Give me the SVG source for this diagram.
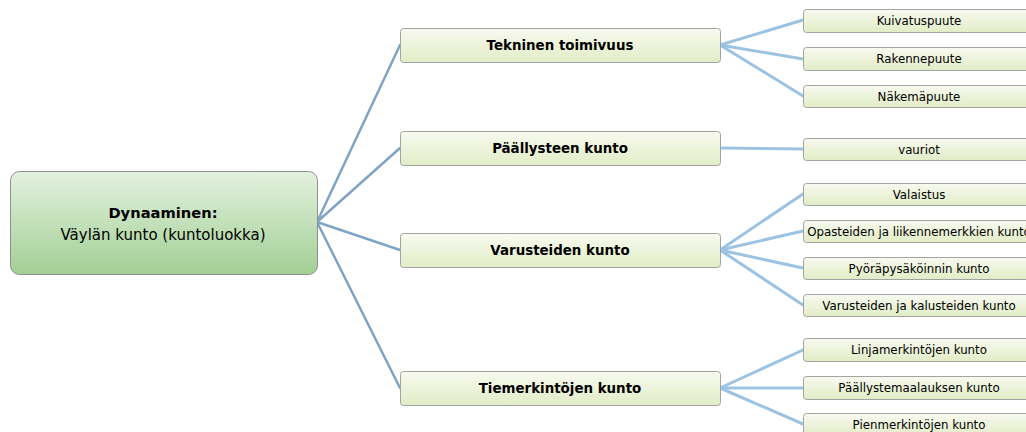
<svg xmlns="http://www.w3.org/2000/svg" width="1026" height="432" viewBox="0 0 1026 432">
<defs>
<linearGradient id="gRoot" x1="0" y1="0" x2="0" y2="1">
<stop offset="0" stop-color="#e3f1df"/>
<stop offset="1" stop-color="#a2cf94"/>
</linearGradient>
<linearGradient id="gNode" x1="0" y1="0" x2="0" y2="1">
<stop offset="0" stop-color="#f8faf0"/>
<stop offset="1" stop-color="#e1ecc6"/>
</linearGradient>
<style>
.root{fill:url(#gRoot);stroke:#8f8f8f;stroke-width:1}
.n1{fill:url(#gNode);stroke:#a3a3a3;stroke-width:1}
.n2{fill:url(#gNode);stroke:#a3a3a3;stroke-width:1}
.c1{stroke:#7fa4c6;stroke-width:2.5;fill:none;stroke-linecap:round}
.c2{stroke:#9cc3e2;stroke-width:3;fill:none;stroke-linecap:round}
text{font-family:"DejaVu Sans",Verdana,sans-serif;fill:#000;text-anchor:middle}
.t0b{font-size:14.7px;font-weight:bold}
.t0{font-size:15px}
.t1{font-size:13.4px;font-weight:bold}
.t2{font-size:11.8px}
</style>
</defs>
<rect width="1026" height="432" fill="#ffffff"/>
<g id="connectors">
<line class="c1" x1="317" y1="222" x2="400" y2="45"/>
<line class="c1" x1="317" y1="222" x2="400" y2="148"/>
<line class="c1" x1="317" y1="222" x2="400" y2="250"/>
<line class="c1" x1="317" y1="222" x2="400" y2="388"/>
<line class="c2" x1="720" y1="45" x2="803" y2="20"/>
<line class="c2" x1="720" y1="45" x2="803" y2="59"/>
<line class="c2" x1="720" y1="45" x2="803" y2="96"/>
<line class="c2" x1="720" y1="148" x2="803" y2="149"/>
<line class="c2" x1="720" y1="250" x2="803" y2="194"/>
<line class="c2" x1="720" y1="250" x2="803" y2="231"/>
<line class="c2" x1="720" y1="250" x2="803" y2="268"/>
<line class="c2" x1="720" y1="250" x2="803" y2="305"/>
<line class="c2" x1="720" y1="388" x2="803" y2="350"/>
<line class="c2" x1="720" y1="388" x2="803" y2="388"/>
<line class="c2" x1="720" y1="388" x2="803" y2="424"/>
</g>
<g id="root">
<rect class="root" x="10.5" y="171.5" width="307" height="103" rx="9"/>
<text class="t0b" x="163" y="218">Dynaaminen:</text>
<text class="t0" x="163" y="240">Väylän kunto (kuntoluokka)</text>
</g>
<g id="n-tekninen">
<rect class="n1" x="400.5" y="28.5" width="320" height="34" rx="3"/>
<text class="t1" x="560" y="50">Tekninen toimivuus</text>
</g>
<g id="n-paallysteen">
<rect class="n1" x="400.5" y="131.5" width="320" height="34" rx="3"/>
<text class="t1" x="560" y="153">Päällysteen kunto</text>
</g>
<g id="n-varusteiden">
<rect class="n1" x="400.5" y="233.5" width="320" height="34" rx="3"/>
<text class="t1" x="560" y="255">Varusteiden kunto</text>
</g>
<g id="n-tiemerkintojen">
<rect class="n1" x="400.5" y="371.5" width="320" height="34" rx="3"/>
<text class="t1" x="560" y="393">Tiemerkintöjen kunto</text>
</g>
<g id="n-kuivatus">
<rect class="n2" x="803.5" y="9.5" width="230" height="23" rx="3"/>
<text class="t2" x="919" y="25">Kuivatuspuute</text>
</g>
<g id="n-rakenne">
<rect class="n2" x="803.5" y="47.5" width="230" height="23" rx="3"/>
<text class="t2" x="919" y="63">Rakennepuute</text>
</g>
<g id="n-nakema">
<rect class="n2" x="803.5" y="85.5" width="230" height="22" rx="3"/>
<text class="t2" x="919" y="100.5">Näkemäpuute</text>
</g>
<g id="n-vauriot">
<rect class="n2" x="803.5" y="138.5" width="230" height="22" rx="3"/>
<text class="t2" x="919" y="153.5">vauriot</text>
</g>
<g id="n-valaistus">
<rect class="n2" x="803.5" y="183.5" width="230" height="22" rx="3"/>
<text class="t2" x="919" y="198.5">Valaistus</text>
</g>
<g id="n-opasteiden">
<rect class="n2" x="803.5" y="220.5" width="230" height="22" rx="3"/>
<text class="t2" x="919" y="235.5">Opasteiden ja liikennemerkkien kunto</text>
</g>
<g id="n-pyora">
<rect class="n2" x="803.5" y="257.5" width="230" height="22" rx="3"/>
<text class="t2" x="919" y="272.5">Pyöräpysäköinnin kunto</text>
</g>
<g id="n-kalusteiden">
<rect class="n2" x="803.5" y="294.5" width="230" height="22" rx="3"/>
<text class="t2" x="919" y="309.5">Varusteiden ja kalusteiden kunto</text>
</g>
<g id="n-linja">
<rect class="n2" x="803.5" y="338.5" width="230" height="23" rx="3"/>
<text class="t2" x="919" y="354">Linjamerkintöjen kunto</text>
</g>
<g id="n-maalaus">
<rect class="n2" x="803.5" y="376.5" width="230" height="23" rx="3"/>
<text class="t2" x="919" y="392">Päällystemaalauksen kunto</text>
</g>
<g id="n-pien">
<rect class="n2" x="803.5" y="413.5" width="230" height="23" rx="3"/>
<text class="t2" x="919" y="429">Pienmerkintöjen kunto</text>
</g>
</svg>
